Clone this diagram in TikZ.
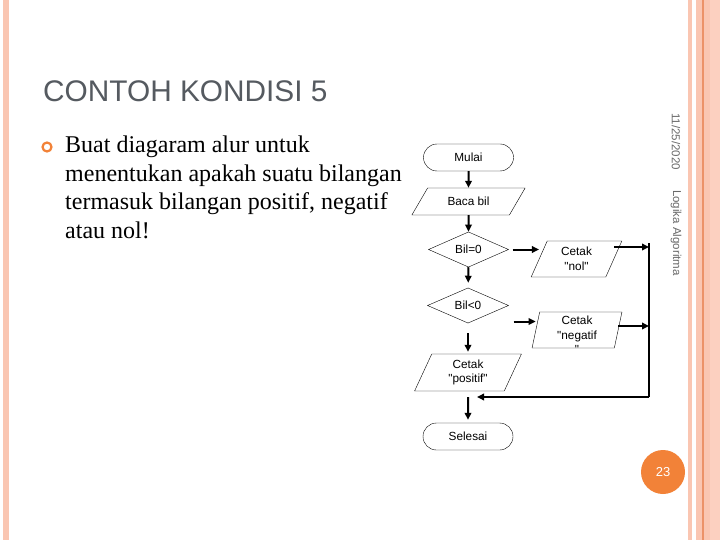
\documentclass[tikz,border=0pt]{standalone}
\usepackage{fontspec}
\setmainfont{Liberation Serif}
\newfontfamily\arial{Liberation Sans}
\usepackage{xcolor}
\usepackage{tikz}
\usetikzlibrary{shapes.geometric, shapes.misc, arrows.meta, positioning, calc}
\definecolor{titleGray}{RGB}{85,90,96}
\definecolor{dateGray}{RGB}{105,105,105}
\definecolor{accentOrange}{RGB}{242,130,56}
\definecolor{stripeSalmon}{RGB}{250,198,178}
\definecolor{stripeLight}{RGB}{252,208,192}
\definecolor{stripeLine}{RGB}{236,146,104}
\newcommand{\flowfont}{\arial\fontsize{11.8}{14.5}\selectfont}

\begin{document}
\begin{tikzpicture}[
    x=1pt, y=-1pt,
    terminal/.style={rounded rectangle, draw, minimum width=90pt, minimum height=27pt, inner sep=0pt, font=\flowfont},
    io/.style={trapezium, trapezium left angle=70, trapezium right angle=110, trapezium stretches=true, draw, minimum width=91pt, minimum height=36pt, inner sep=0pt, align=center, font=\flowfont},
    decision/.style={diamond, draw, minimum width=80pt, minimum height=35pt, inner sep=0pt, font=\flowfont},
    arrow/.style={-{Triangle[length=7pt,width=6.5pt]}, line width=2pt},
    line/.style={line width=2pt}
]
    % Slide background and side stripes
    \useasboundingbox (0,0) rectangle (720,540);
    \fill[white] (0,0) rectangle (720,540);
    \fill[stripeSalmon] (3,0) rectangle (9,540);
    \fill[stripeSalmon] (688,0) rectangle (692,540);
    \fill[stripeSalmon] (696,0) rectangle (710,540);
    \fill[stripeLight] (710,0) rectangle (720,540);
    \fill[stripeLine] (702,0) rectangle (703.5,540);

    % Title and task text
    \node[anchor=base west, inner sep=0pt, text=titleGray, font=\arial\fontsize{29.8}{34}\selectfont] (title) at (43,102) {CONTOH KONDISI 5};
    \node[circle, draw=accentOrange, line width=2.2pt, minimum size=9pt, inner sep=0pt] (bullet) at (47,147) {};
    \node[anchor=north west, inner sep=0pt, align=left, font=\fontsize{24}{28.5}\selectfont] (task) at (65,136)
        {Buat diagaram alur untuk\\ menentukan apakah suatu bilangan\\ termasuk bilangan positif, negatif\\ atau nol!};

    % Flowchart
    \node[terminal] (mulai) at (468.5,157.5) {Mulai};
    \node[io, trapezium left angle=47, trapezium right angle=133, minimum width=114pt, minimum height=27pt] (baca) at (468.5,201.5) {Baca bil};
    \node[decision] (bil0) at (468.5,249.5) {Bil=0};
    \node[io] (nol) at (576.5,259) {Cetak\\"nol"};
    \node[decision, minimum width=81pt] (bil1) at (468,305.5) {Bil<0};
    \node[io, minimum width=90pt] (neg) at (577,330) {\phantom{Cetak}};
    \node[anchor=north, inner sep=0pt, align=center, font=\flowfont] (negtext) at (577,316) {Cetak\\"negatif\\"};
    \node[io, minimum width=107pt, minimum height=37pt] (positif) at (468,372.5) {Cetak\\"positif"};
    \node[terminal] (selesai) at (468,436.5) {Selesai};

    \coordinate (railtop) at (649,243);
    \coordinate (nolout) at (649,247);
    \coordinate (negout) at (649,326);
    \coordinate (railbot) at (649,397);
    \coordinate (negin) at ([shift={(5pt,-16pt)}]bil1.east);

    % Arrows
    \draw[arrow] (mulai) -- (baca);
    \draw[arrow] (baca) -- (bil0);
    \draw[arrow, shorten <=4pt] (bil0.east) -- (bil0.east -| nol.west);
    \draw[arrow, shorten >=5pt] (bil0) -- (bil1);
    \draw[arrow] (negin) -- (negin -| neg.west);
    \draw[arrow, shorten <=10pt, shorten >=2pt] (bil1) -- (positif);
    \draw[arrow, shorten <=6pt, shorten >=3pt] (positif) -- (selesai);
    \draw[arrow] (nol.east |- nolout) -- (nolout);
    \draw[arrow] (neg.east |- negout) -- (negout);
    \draw[line] (railtop) -- (railbot);
    \draw[arrow, shorten >=9pt] (railbot) -- (railbot -| selesai.north);

    % Footer marks
    \node[rotate=-90, anchor=west, inner sep=0pt, text=dateGray, font=\arial\fontsize{11.5}{13}\selectfont] (date) at (676,113) {11/25/2020};
    \node[rotate=-90, anchor=west, inner sep=0pt, text=dateGray, font=\arial\fontsize{11.5}{13}\selectfont] (course) at (676,190) {Logika Algoritma};
    \node[circle, fill=accentOrange, minimum size=44pt, inner sep=0pt, text=white, font=\arial\fontsize{13}{15}\selectfont] (pagenum) at (663,472) {23};
\end{tikzpicture}
\end{document}
